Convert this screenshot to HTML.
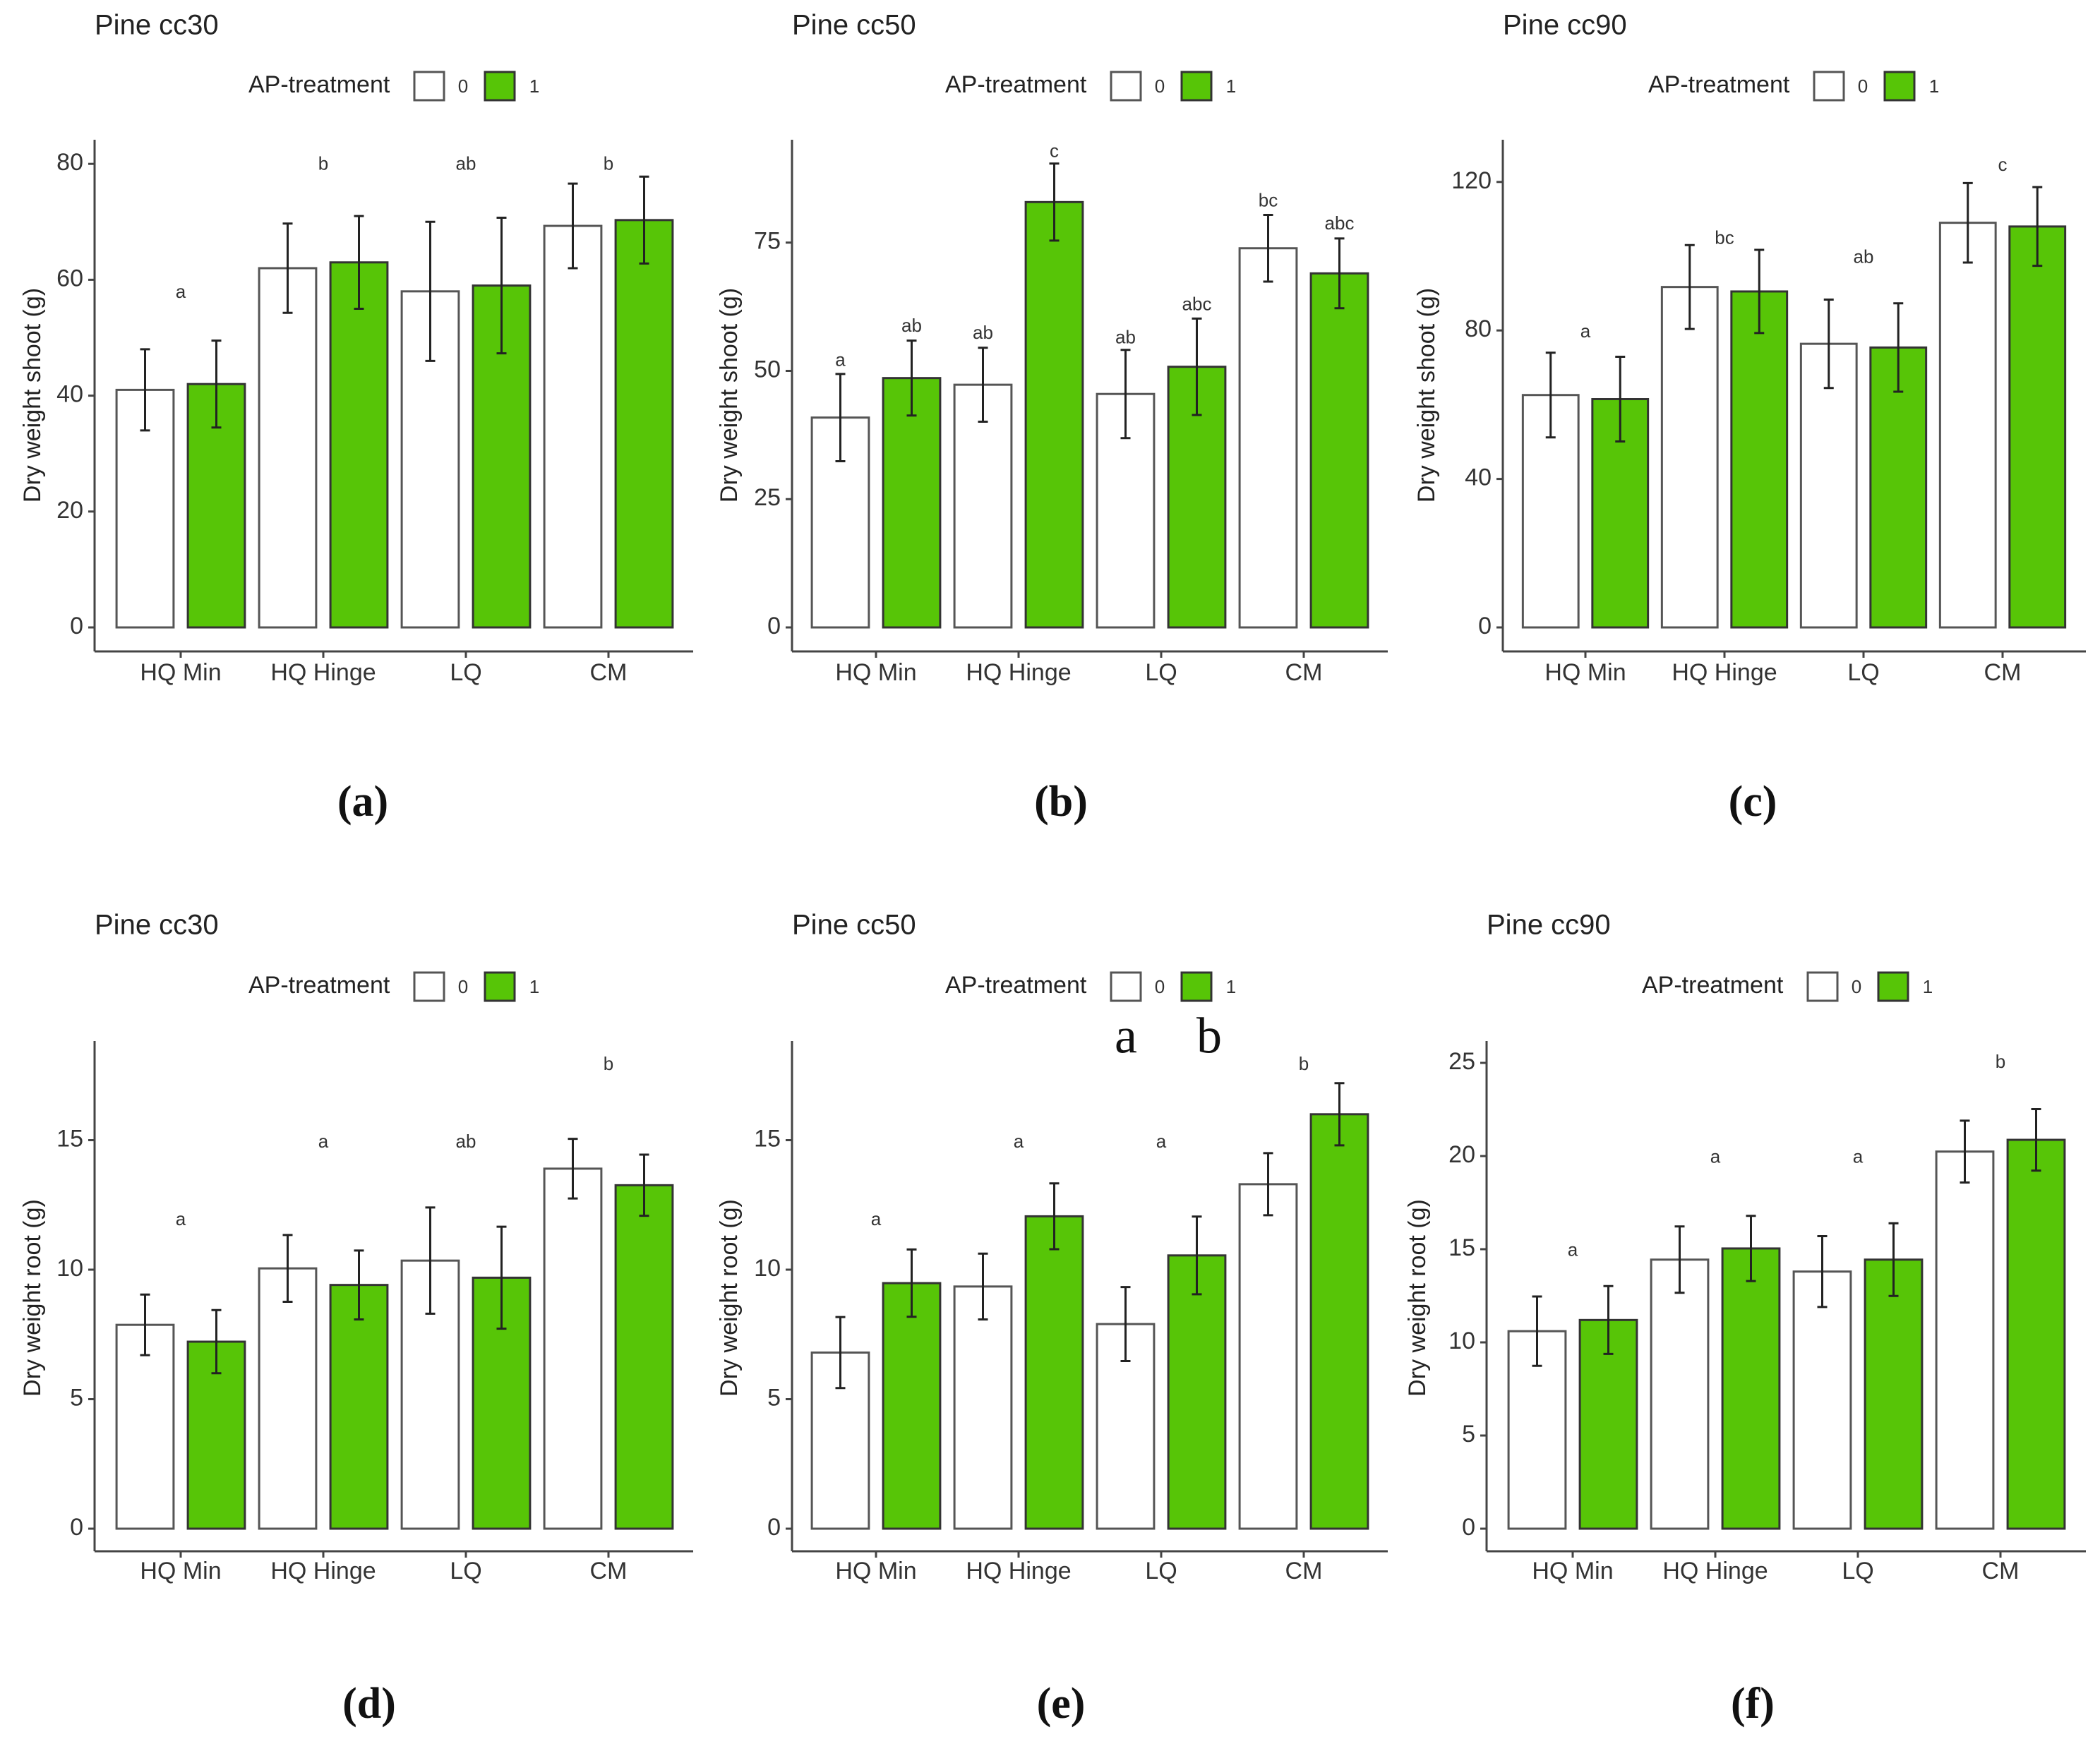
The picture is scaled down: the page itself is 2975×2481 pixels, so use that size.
<!DOCTYPE html>
<html><head><meta charset="utf-8"><title>Pine dry weight</title>
<style>
html,body{margin:0;padding:0;background:#fff;}
svg{display:block;font-family:"Liberation Sans",Arial,sans-serif;}
</style></head>
<body>
<svg id="fig" width="2975" height="2481" viewBox="0 0 2975 2481" xmlns="http://www.w3.org/2000/svg"></svg>
<script>
const categories = ["HQ Min","HQ Hinge","LQ","CM"];
// (a) shoot cc30
const aWhite = [41, 62, 58, 69.3];
const aWhiteSe = [7, 7.7, 12, 7.3];
const aGreen = [42, 63, 59, 70.3];
const aGreenSe = [7.5, 8, 11.7, 7.5];
const aLetters = ["a","b","ab","b"];
const aLetterY = [57.7, 79.8, 79.8, 79.8];
const aTicks = [0,20,40,60,80];
// (b) shoot cc50
const bWhite = [40.9, 47.3, 45.5, 73.9];
const bWhiteSe = [8.5, 7.2, 8.6, 6.5];
const bGreen = [48.6, 82.9, 50.8, 69];
const bGreenSe = [7.3, 7.5, 9.4, 6.8];
const bLettersW = ["a","ab","ab","bc"];
const bLetterYW = [51.9, 57.2, 56.3, 83];
const bLettersG = ["ab","c","abc","abc"];
const bLetterYG = [58.6, 92.6, 62.8, 78.5];
const bTicks = [0,25,50,75];
// (c) shoot cc90
const cWhite = [62.6, 91.7, 76.4, 109];
const cWhiteSe = [11.4, 11.3, 11.9, 10.7];
const cGreen = [61.5, 90.5, 75.4, 108];
const cGreenSe = [11.4, 11.2, 11.9, 10.6];
const cLetters = ["a","bc","ab","c"];
const cLetterY = [79.4, 104.6, 99.5, 124.3];
const cTicks = [0,40,80,120];
// (d) root cc30
const dWhite = [7.87, 10.05, 10.35, 13.9];
const dWhiteSe = [1.17, 1.29, 2.05, 1.15];
const dGreen = [7.22, 9.41, 9.69, 13.26];
const dGreenSe = [1.22, 1.33, 1.97, 1.18];
const dLetters = ["a","a","ab","b"];
const dLetterY = [11.9, 14.9, 14.9, 17.9];
const dTicks = [0,5,10,15];
// (e) root cc50
const eWhite = [6.8, 9.35, 7.9, 13.3];
const eWhiteSe = [1.37, 1.27, 1.43, 1.2];
const eGreen = [9.48, 12.06, 10.55, 16.0];
const eGreenSe = [1.3, 1.27, 1.5, 1.2];
const eLetters = ["a","a","a","b"];
const eLetterY = [11.9, 14.9, 14.9, 17.9];
const eTicks = [0,5,10,15];
// (f) root cc90
const fWhite = [10.6, 14.44, 13.8, 20.24];
const fWhiteSe = [1.86, 1.78, 1.9, 1.66];
const fGreen = [11.2, 15.04, 14.44, 20.87];
const fGreenSe = [1.82, 1.75, 1.95, 1.65];
const fLetters = ["a","a","a","b"];
const fLetterY = [14.9, 19.9, 19.9, 25.0];
const fTicks = [0,5,10,15,20,25];

const NS = "http://www.w3.org/2000/svg";
const svg = document.getElementById("fig");
function mk(tag, attrs, parent, text){
  const e = document.createElementNS(NS, tag);
  for (const k in attrs) e.setAttribute(k, attrs[k]);
  if (text !== undefined) e.textContent = text;
  (parent || svg).appendChild(e);
  return e;
}
const GREEN = "#57c507";

function panel(cfg){
  const g = mk("g", {});
  
  
  const yS = v => cfg.y0 - v * cfg.ppu;
  const xS = i => cfg.c0 + i * cfg.sp;
  const bw = cfg.sp * 0.4, gap = cfg.sp * 0.05;
  const t = mk("text", {x: cfg.axisX, y: cfg.titleY, "font-size": 40, fill: "#222", "dominant-baseline": "middle"}, g, cfg.title);
  
  
  const lg = mk("g", {}, g);
  
  
  const lx = cfg.legX, ly = cfg.legY;
  mk("text", {x: lx, y: ly, "font-size": 34, fill: "#222", "dominant-baseline": "middle"}, lg, "AP-treatment");
  const k0 = mk("rect", {x: lx+235, y: ly-20, width: 42, height: 40, fill: "#fff", stroke: "#555", "stroke-width": 3}, lg);
  
  
  mk("text", {x: lx+304, y: ly+2, "font-size": 26, fill: "#333", "text-anchor": "middle", "dominant-baseline": "middle"}, lg, "0");
  const k1 = mk("rect", {x: lx+335, y: ly-20, width: 42, height: 40, fill: GREEN, stroke: "#333", "stroke-width": 3}, lg);
  
  
  mk("text", {x: lx+405, y: ly+2, "font-size": 26, fill: "#333", "text-anchor": "middle", "dominant-baseline": "middle"}, lg, "1");
  mk("line", {x1: cfg.axisX, y1: cfg.top, x2: cfg.axisX, y2: cfg.bottom, stroke: "#444", "stroke-width": 3}, g);
  mk("line", {x1: cfg.axisX, y1: cfg.bottom, x2: cfg.right, y2: cfg.bottom, stroke: "#444", "stroke-width": 3}, g);
  cfg.ticks.forEach(v => {
    const y = yS(v);
    mk("line", {x1: cfg.axisX-9, y1: y, x2: cfg.axisX, y2: y, stroke: "#444", "stroke-width": 3}, g);
    const tl = mk("text", {x: cfg.axisX-16, y: y, "font-size": 34, fill: "#333", "text-anchor": "end", "dominant-baseline": "middle"}, g, String(v));
    
    
  });
  const yt = mk("text", {x: 0, y: 0, "font-size": 34, fill: "#222", "text-anchor": "middle", "dominant-baseline": "middle",
    transform: `translate(${cfg.ytX},${cfg.ytY}) rotate(-90)`}, g, cfg.ytitle);
  
  
  categories.forEach((c, i) => {
    const x = xS(i);
    mk("line", {x1: x, y1: cfg.bottom, x2: x, y2: cfg.bottom+9, stroke: "#444", "stroke-width": 3}, g);
    const xl = mk("text", {x: x, y: cfg.xlY, "font-size": 34, fill: "#333", "text-anchor": "middle", "dominant-baseline": "middle"}, g, c);
    
    
    const series = [
      {v: cfg.white[i], se: cfg.whiteSe[i], x0: x - gap - bw, fill: "#fff", stroke: "#555", nm: "bar-ap0"},
      {v: cfg.green[i], se: cfg.greenSe[i], x0: x + gap, fill: GREEN, stroke: "#333", nm: "bar-ap1"}
    ];
    series.forEach(s => {
      const b = mk("rect", {x: s.x0, y: yS(s.v), width: bw, height: yS(0)-yS(s.v), fill: s.fill, stroke: s.stroke, "stroke-width": 3}, g);
      
      
      const cx = s.x0 + bw/2, hi = yS(s.v + s.se), lo = yS(s.v - s.se);
      const eb = mk("path", {d: `M${cx},${hi}V${lo}M${cx-7},${hi}H${cx+7}M${cx-7},${lo}H${cx+7}`, stroke: "#222", "stroke-width": 3, fill: "none"}, g);
      
      
    });
    if (cfg.letters) {
      const lt = mk("text", {x: x, y: yS(cfg.letterY[i]), "font-size": 26, fill: "#333", "text-anchor": "middle", "dominant-baseline": "middle"}, g, cfg.letters[i]);
      
      
    } else {
      [[cfg.lettersW, cfg.letterYW, x - gap - bw/2], [cfg.lettersG, cfg.letterYG, x + gap + bw/2]].forEach(p => {
        const lt = mk("text", {x: p[2], y: yS(p[1][i]), "font-size": 26, fill: "#333", "text-anchor": "middle", "dominant-baseline": "middle"}, g, p[0][i]);
        
        
      });
    }
  });
  const pl = mk("text", {x: cfg.plX, y: cfg.plY, "font-size": 62, "font-weight": "bold", fill: "#111", "text-anchor": "middle", "dominant-baseline": "middle", "font-family": "Liberation Serif, serif"}, g, cfg.pl);
  
  
}

const TOP = {top: 198, bottom: 923, y0: 889, titleY: 38, legY: 122, xlY: 955, ytY: 560, plY: 1142};
const BOT = {top: 1475, bottom: 2198, y0: 2166, titleY: 1313, legY: 1398, xlY: 2228, ytY: 1839, plY: 2420};

panel(Object.assign({}, TOP, {name: "panel-a-shoot-cc30", title: "Pine cc30", axisX: 134, right: 982, c0: 256, sp: 202, ppu: 8.21,
  legX: 352, ytX: 48, ytitle: "Dry weight shoot (g)", ticks: aTicks, white: aWhite, whiteSe: aWhiteSe, green: aGreen, greenSe: aGreenSe,
  letters: aLetters, letterY: aLetterY, pl: "(a)", plX: 514}));
panel(Object.assign({}, TOP, {name: "panel-b-shoot-cc50", title: "Pine cc50", axisX: 1122, right: 1966, c0: 1241, sp: 202, ppu: 7.27,
  legX: 1339, ytX: 1035, ytitle: "Dry weight shoot (g)", ticks: bTicks, white: bWhite, whiteSe: bWhiteSe, green: bGreen, greenSe: bGreenSe,
  lettersW: bLettersW, letterYW: bLetterYW, lettersG: bLettersG, letterYG: bLetterYG, pl: "(b)", plX: 1503}));
panel(Object.assign({}, TOP, {name: "panel-c-shoot-cc90", title: "Pine cc90", axisX: 2129, right: 2955, c0: 2246, sp: 197, ppu: 5.26,
  legX: 2335, ytX: 2023, ytitle: "Dry weight shoot (g)", ticks: cTicks, white: cWhite, whiteSe: cWhiteSe, green: cGreen, greenSe: cGreenSe,
  letters: cLetters, letterY: cLetterY, pl: "(c)", plX: 2483}));
panel(Object.assign({}, BOT, {name: "panel-d-root-cc30", title: "Pine cc30", axisX: 134, right: 982, c0: 256, sp: 202, ppu: 36.7,
  legX: 352, ytX: 48, ytitle: "Dry weight root (g)", ticks: dTicks, white: dWhite, whiteSe: dWhiteSe, green: dGreen, greenSe: dGreenSe,
  letters: dLetters, letterY: dLetterY, pl: "(d)", plX: 523}));
panel(Object.assign({}, BOT, {name: "panel-e-root-cc50", title: "Pine cc50", axisX: 1122, right: 1966, c0: 1241, sp: 202, ppu: 36.7,
  legX: 1339, ytX: 1035, ytitle: "Dry weight root (g)", ticks: eTicks, white: eWhite, whiteSe: eWhiteSe, green: eGreen, greenSe: eGreenSe,
  letters: eLetters, letterY: eLetterY, pl: "(e)", plX: 1503}));
panel(Object.assign({}, BOT, {name: "panel-f-root-cc90", title: "Pine cc90", axisX: 2106, right: 2955, c0: 2228, sp: 202, ppu: 26.4,
  legX: 2326, ytX: 2010, ytitle: "Dry weight root (g)", ticks: fTicks, white: fWhite, whiteSe: fWhiteSe, green: fGreen, greenSe: fGreenSe,
  letters: fLetters, letterY: fLetterY, pl: "(f)", plX: 2483}));

const sa = mk("text", {x: 1595, y: 1475, "font-size": 72, fill: "#111", "text-anchor": "middle", "dominant-baseline": "middle", "font-family": "Liberation Serif, serif"}, svg, "a");


const sb = mk("text", {x: 1713, y: 1475, "font-size": 72, fill: "#111", "text-anchor": "middle", "dominant-baseline": "middle", "font-family": "Liberation Serif, serif"}, svg, "b");


</script>
</body></html>
